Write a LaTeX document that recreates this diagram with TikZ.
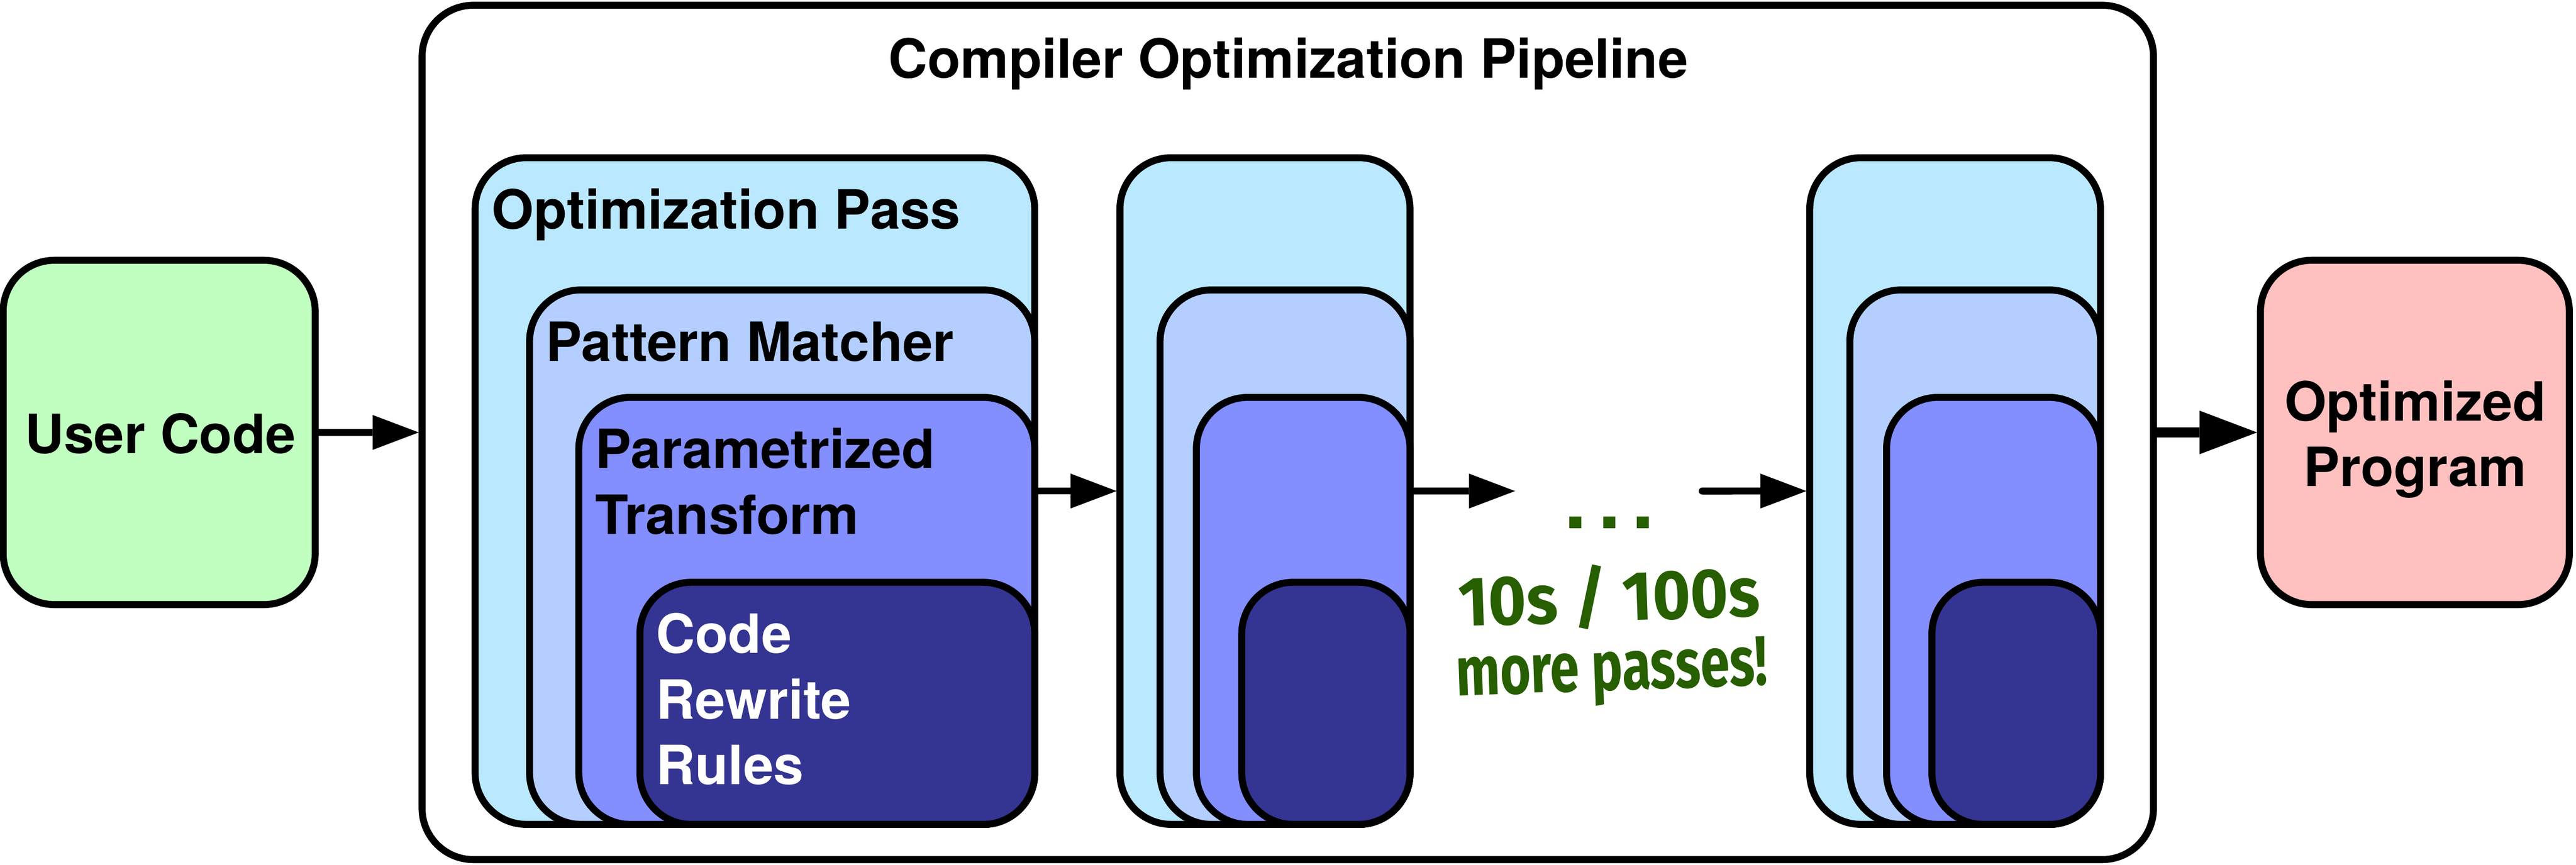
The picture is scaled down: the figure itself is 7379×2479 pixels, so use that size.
\documentclass[tikz,border=0pt]{standalone}
\usepackage{fontspec}
\setmainfont{TeX Gyre Heros}
\newfontfamily\handfont[FakeStretch=0.75]{Fira Sans}
\newfontfamily\handwide[FakeStretch=0.93]{Fira Sans}
\usetikzlibrary{arrows.meta}
\definecolor{cUser}{RGB}{192,255,192}
\definecolor{cOpt}{RGB}{255,192,192}
\definecolor{cPass}{RGB}{186,232,254}
\definecolor{cPat}{RGB}{180,207,255}
\definecolor{cPar}{RGB}{131,142,255}
\definecolor{cCode}{RGB}{52,52,146}
\definecolor{cGreen}{RGB}{38,94,0}
\tikzset{
  pbox/.style={draw=black, line width=2pt, rounded corners=14.7pt, rectangle,
    anchor=north west, outer sep=0pt, inner sep=0pt},
  lbl/.style={font=\fontsize{15.5pt}{18.8pt}\selectfont\bfseries, inner sep=0pt, outer sep=0pt},
  arr/.style={line width=2pt, -{Triangle[length=13.2pt,width=10pt,line width=0pt]}},
  arrbox/.style={arr, shorten >=0.95pt},
  bigarr/.style={line width=2.9pt, shorten >=0.95pt, -{Triangle[length=16.5pt,width=12.5pt,line width=0pt]}},
  hand/.style={font=\handfont\fontsize{20pt}{19.8pt}\selectfont\bfseries, text=cGreen, inner sep=0pt, outer sep=0pt},
  dotstyle/.style={font=\fontsize{23pt}{26pt}\selectfont\bfseries, text=cGreen, inner sep=0pt, outer sep=0pt}
}
\begin{document}
\begin{tikzpicture}[x=0.1pt, y=-0.1pt]
\useasboundingbox (0,0) rectangle (7379,2479);
% outer boxes
\node[pbox, fill=white, minimum width=496.0pt, minimum height=244.9pt] (pipe) at (1209,15) {};
\node[pbox, fill=cUser, minimum width=89.4pt, minimum height=98.7pt] (user) at (9,746) {};
\node[pbox, fill=cOpt, minimum width=88.5pt, minimum height=98.7pt] (opt) at (6475,746) {};
% pass 1
\node[pbox, fill=cPass, minimum width=160.3pt, minimum height=191.1pt] (p1a) at (1361,452) {};
\node[pbox, fill=cPat, minimum width=144.7pt, minimum height=153.2pt] (p1b) at (1517,831) {};
\node[pbox, fill=cPar, minimum width=130.6pt, minimum height=122.4pt] (p1c) at (1658,1139) {};
\node[pbox, fill=cCode, minimum width=113.1pt, minimum height=69.4pt] (p1d) at (1833,1669) {};
% pass 2
\node[pbox, fill=cPass, minimum width=83.1pt, minimum height=191.1pt] (p2a) at (3208,452) {};
\node[pbox, fill=cPat, minimum width=71.6pt, minimum height=153.2pt] (p2b) at (3323,831) {};
\node[pbox, fill=cPar, minimum width=61.2pt, minimum height=122.4pt] (p2c) at (3427,1139) {};
\node[pbox, fill=cCode, minimum width=48.2pt, minimum height=69.4pt] (p2d) at (3557,1669) {};
% pass 3
\node[pbox, fill=cPass, minimum width=83.3pt, minimum height=191.1pt] (p3a) at (5184,452) {};
\node[pbox, fill=cPat, minimum width=71.8pt, minimum height=153.2pt] (p3b) at (5299,831) {};
\node[pbox, fill=cPar, minimum width=61.3pt, minimum height=122.4pt] (p3c) at (5404,1139) {};
\node[pbox, fill=cCode, minimum width=48.3pt, minimum height=69.4pt] (p3d) at (5534,1669) {};
% labels
\node[lbl, anchor=base] (title) at (3690,223) {Compiler Optimization Pipeline};
\node[lbl, anchor=base] (tuser) at (459,1300) {User Code};
\node[lbl, anchor=base] (topt1) at (6918,1206) {Optimized};
\node[lbl, anchor=base] (topt2) at (6918,1394) {Program};
\node[lbl, anchor=base west] (tpass) at (1409,656) {Optimization Pass};
\node[lbl, anchor=base west] (tpat) at (1563,1035) {Pattern Matcher};
\node[lbl, anchor=base west] (tpar1) at (1705,1342) {Parametrized};
\node[lbl, anchor=base west] (tpar2) at (1705,1531) {Transform};
\node[lbl, anchor=base west, text=white] (tcode1) at (1880,1872) {Code};
\node[lbl, anchor=base west, text=white] (tcode2) at (1880,2061) {Rewrite};
\node[lbl, anchor=base west, text=white] (tcode3) at (1880,2249) {Rules};
% ellipsis and note
\node[dotstyle, anchor=base] (dots) at (4610,1515) {.\hspace{3.3pt}.\hspace{3.3pt}.};
\node[hand, align=center, rotate=2, anchor=center] (note) at (4613,1820) {{\handwide 10s / 100s}\\more passes!};
% connectors
\coordinate (d1) at (4340,1407.5);
\coordinate (d2) at (4876,1407.5);
\draw[arrbox] (user.east) -- (pipe.west);
\draw[arrbox] (p1a.east) -- (p2a.west);
\draw[arr] (p2a.east) -- (d1);
\draw[arrbox, line cap=round] (d2) -- (p3a.west);
\draw[bigarr] (pipe.east) -- (opt.west);
\end{tikzpicture}
\end{document}
